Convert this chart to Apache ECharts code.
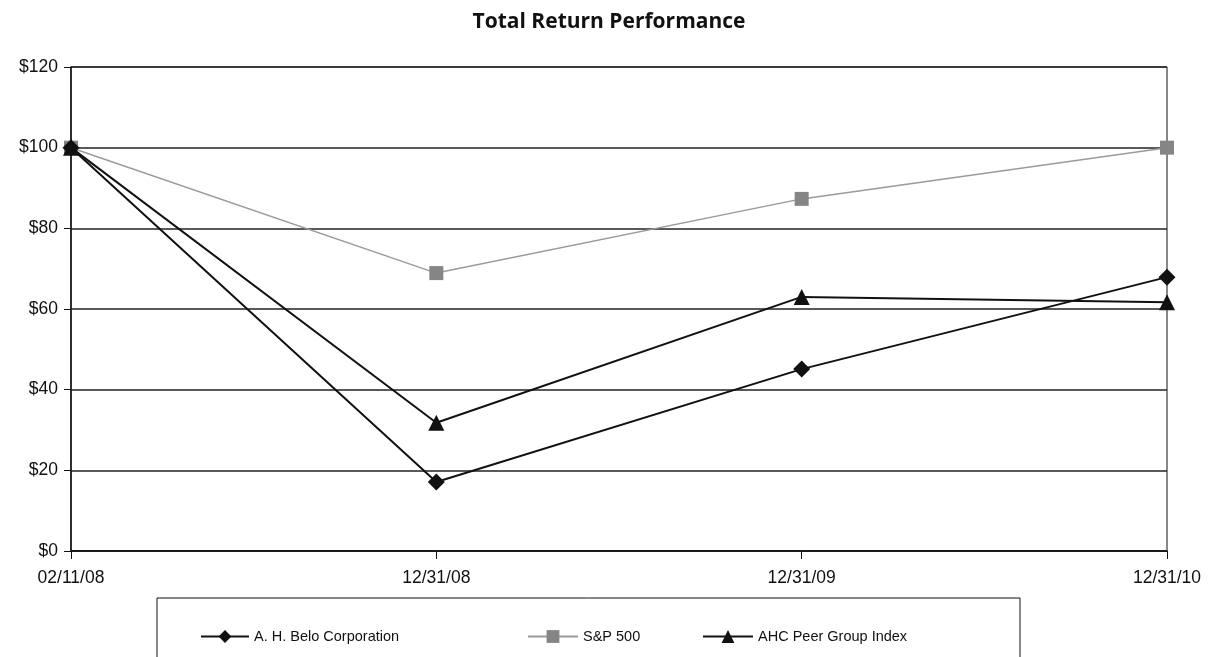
<!DOCTYPE html>
<html>
<head>
<meta charset="utf-8">
<script src="https://cdn.jsdelivr.net/npm/echarts@6/dist/echarts.min.js"></script>
<style>html,body{margin:0;padding:0;background:#fff;}#c{width:1212px;height:657px;}</style>
</head>
<body>
<div id="c"></div>
<script>
const categories = ['02/11/08', '12/31/08', '12/31/09', '12/31/10'];
const beloValues = [100, 17.1, 45.1, 67.9];
const spValues = [100, 68.9, 87.3, 100];
const peerValues = [100, 31.8, 63.0, 61.7];
const seriesNames = ['A. H. Belo Corporation', 'S&P 500', 'AHC Peer Group Index'];

const chart = echarts.init(document.getElementById('c'));
const font = '"Liberation Sans", Arial, sans-serif';
const legendText = { fontFamily: font, fontSize: 14.5, color: '#111' };
chart.setOption({
  animation: false,
  backgroundColor: '#fff',
  title: {
    text: 'Total Return Performance',
    left: 604, top: 7, textAlign: 'center',
    textStyle: { fontFamily: '"Open Sans", sans-serif', fontWeight: 'bold', fontSize: 21, color: '#111' }
  },
  grid: { left: 71, right: 45, top: 67, bottom: 106, show: true, borderColor: '#111', borderWidth: 1 },
  xAxis: {
    type: 'category', data: categories, boundaryGap: false,
    axisLine: { lineStyle: { color: '#111', width: 1.5 } },
    axisTick: { show: true, length: 8, lineStyle: { color: '#111' } },
    axisLabel: { fontFamily: font, fontSize: 17.5, color: '#111', margin: 18 },
    splitLine: { show: false }
  },
  yAxis: {
    type: 'value', min: 0, max: 120, interval: 20,
    axisLine: { show: true, lineStyle: { color: '#111', width: 1.5 } },
    axisTick: { show: true, length: 7, lineStyle: { color: '#111' } },
    axisLabel: { fontFamily: font, fontSize: 17.5, color: '#111', margin: 13, formatter: v => '$' + v },
    splitLine: { show: true, lineStyle: { color: '#222', width: 1.5 } }
  },
  graphic: [{
    type: 'rect', shape: { x: 157, y: 598, width: 863, height: 80 },
    style: { fill: 'none', stroke: '#111', lineWidth: 1 }
  }],
  legend: [
    { data: [seriesNames[0]], left: 195, top: 624, itemWidth: 48, itemHeight: 16, itemGap: 5, textStyle: legendText },
    { data: [seriesNames[1]], left: 522, top: 624, itemWidth: 50, itemHeight: 16, itemGap: 3, textStyle: legendText },
    { data: [seriesNames[2]], left: 697, top: 624, itemWidth: 50, itemHeight: 16, itemGap: 5, textStyle: legendText }
  ],
  series: [
    { name: seriesNames[1], type: 'line', data: spValues, symbol: 'rect', symbolSize: 14,
      lineStyle: { color: '#9a9a9a', width: 1.5 }, itemStyle: { color: '#858585' }, z: 2 },
    { name: seriesNames[2], type: 'line', data: peerValues, symbol: 'triangle', symbolSize: 16,
      lineStyle: { color: '#111', width: 2 }, itemStyle: { color: '#111' }, z: 3 },
    { name: seriesNames[0], type: 'line', data: beloValues, symbol: 'diamond', symbolSize: 17,
      lineStyle: { color: '#111', width: 2 }, itemStyle: { color: '#111' }, z: 4 }
  ]
});
</script>
</body>
</html>
